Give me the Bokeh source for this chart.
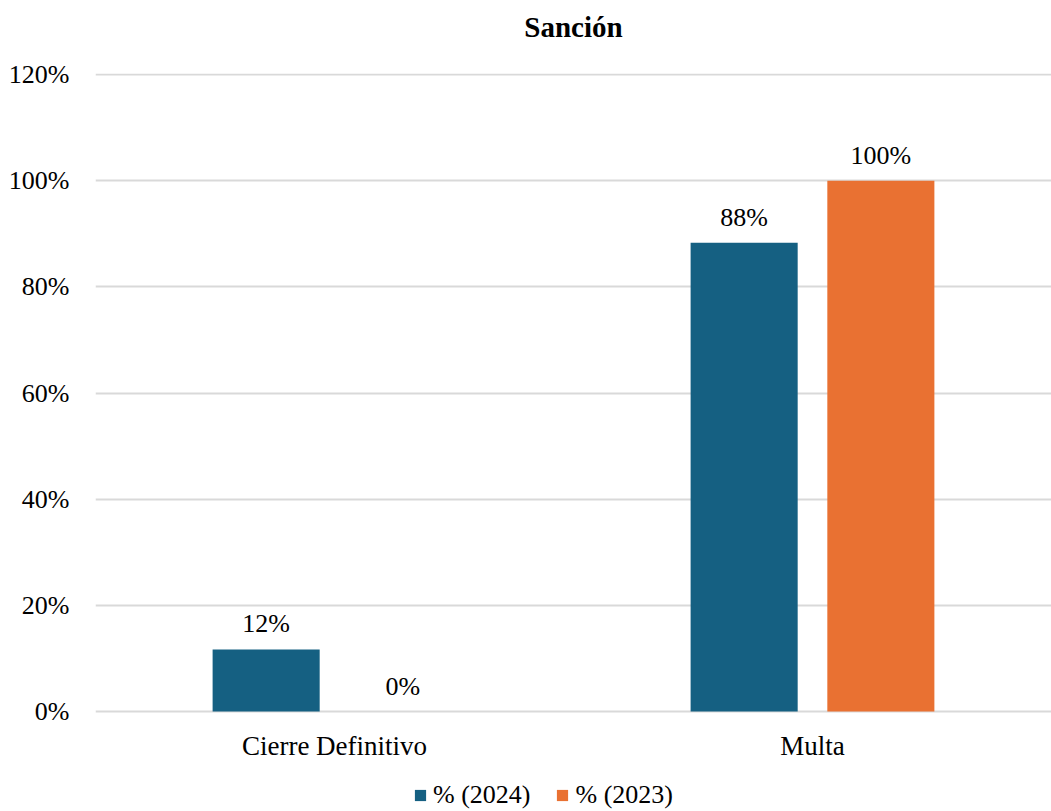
from bokeh.plotting import figure
from bokeh.models import ColumnDataSource, FactorRange, Legend, LegendItem, LabelSet, NumeralTickFormatter, FixedTicker, Title
from bokeh.core.properties import value
from bokeh.transform import dodge
from bokeh.embed import file_html
from bokeh.resources import INLINE

categories = ["Cierre Definitivo", "Multa"]
series_names = ["% (2024)", "% (2023)"]
values_2024 = [0.117, 0.883]
values_2023 = [0.0, 1.0]
labels_2024 = ["12%", "88%"]
labels_2023 = ["0%", "100%"]
colors = ["#156082", "#E97132"]
y_ticks = [0, 0.2, 0.4, 0.6, 0.8, 1.0, 1.2]

FONT = "Liberation Serif"
FS = "26px"
PX_PER_UNIT = 531.0  # 637 px for 120%

src = ColumnDataSource(dict(cat=categories, v24=values_2024, v23=values_2023,
                            l24=labels_2024, l23=labels_2023,
                            ly=[-34 / PX_PER_UNIT] * len(categories)))

p = figure(x_range=FactorRange(*categories, range_padding=0),
           y_range=(-100 / PX_PER_UNIT, 1.2 + 1 / PX_PER_UNIT),
           frame_width=956, frame_height=738, output_backend="svg", toolbar_location=None,
           min_border_left=95, min_border_right=0, min_border_top=73, min_border_bottom=0,
           outline_line_color=None)

p.title.text = "Sanción"
p.title.align = "center"
p.title.text_font = FONT
p.title.text_font_size = "29px"
p.title.text_font_style = "bold"
p.title.text_color = "black"
# spacer between title and frame
p.add_layout(Title(text=" ", text_font_size="12px"), "above")

off = 0.143
w = 0.224
r1 = p.vbar(x=dodge("cat", -off, range=p.x_range), top="v24", width=w, source=src,
            fill_color=colors[0], line_color=None)
r2 = p.vbar(x=dodge("cat", off, range=p.x_range), top="v23", width=w, source=src,
            fill_color=colors[1], line_color=None)

for col, lab, o in (("v24", "l24", -off), ("v23", "l23", off)):
    ls = LabelSet(x=dodge("cat", o, range=p.x_range), y=col, text=lab, source=src,
                  text_align="center", text_baseline="alphabetic", y_offset=17,
                  text_font=FONT, text_font_size=FS, text_color="black")
    p.add_layout(ls)

# category labels under the baseline
p.text(x="cat", y="ly", text="cat", source=src, text_align="center", text_baseline="middle",
       text_font=value(FONT), text_font_size="27px", text_color="black")

p.yaxis.ticker = FixedTicker(ticks=y_ticks)
p.yaxis.formatter = NumeralTickFormatter(format="0%")
p.yaxis.axis_line_color = None
p.yaxis.major_tick_line_color = None
p.yaxis.minor_tick_line_color = None
p.yaxis.major_label_text_font = FONT
p.yaxis.major_label_text_font_size = FS
p.yaxis.major_label_text_color = "black"
p.yaxis.major_label_standoff = 20

p.xaxis.visible = False

p.xgrid.grid_line_color = None
p.ygrid.grid_line_color = "#d9d9d9"
p.ygrid.grid_line_width = 2
p.ygrid.ticker = FixedTicker(ticks=y_ticks)

legend = Legend(items=[LegendItem(label=series_names[0], renderers=[r1]),
                       LegendItem(label=series_names[1], renderers=[r2])],
                orientation="horizontal", location=(318, 1),
                glyph_width=14, glyph_height=14, label_standoff=6, spacing=25,
                label_text_font=FONT, label_text_font_size=FS, label_text_color="black",
                border_line_color=None, background_fill_alpha=0, padding=0, margin=0)
p.add_layout(legend)

open("out.html", "w").write(file_html(p, INLINE))
